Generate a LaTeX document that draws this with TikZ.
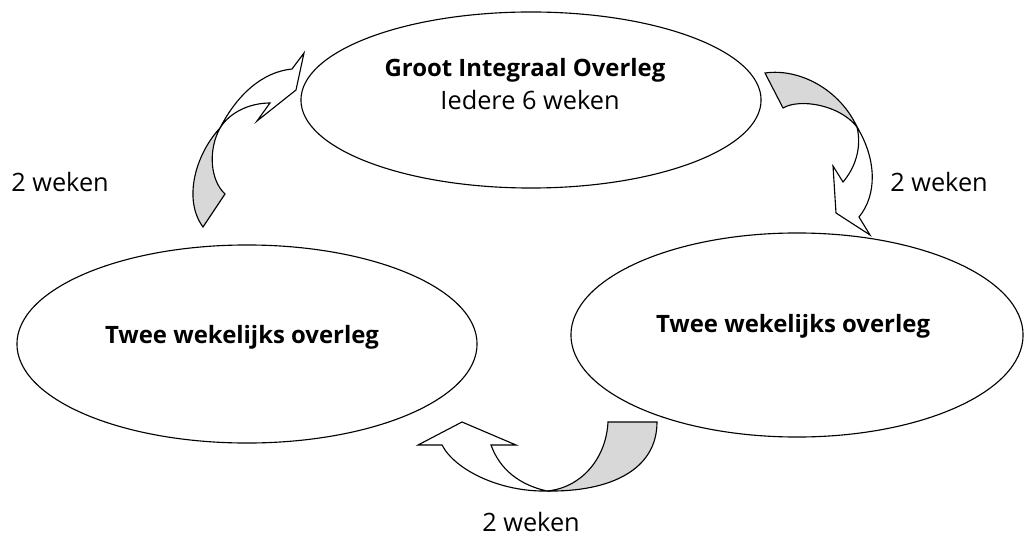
\documentclass[tikz,border=0pt]{standalone}
\usepackage{fontspec}
\setmainfont{Open Sans}
\usepackage{tikz}
\usetikzlibrary{shapes.geometric}
\definecolor{backgray}{RGB}{216,216,216}

\begin{document}
\begin{tikzpicture}[
  x=0.025cm, y=-0.025cm,
  font=\fontsize{18}{21}\selectfont,
  meeting/.style={draw, ellipse, line width=0.8pt, inner sep=0pt},
  title/.style={font=\fontsize{17}{20}\selectfont\bfseries, anchor=base},
  note/.style={anchor=base},
  band/.style={draw, line width=0.8pt, line join=miter},
  front/.style={band, fill=white},
  back/.style={band, fill=backgray}
]
\useasboundingbox (0,0) rectangle (1024,537);

% the three meetings
\node[meeting, minimum width=11.5cm, minimum height=4.4cm] (gio) at (531,100) {};
\node[meeting, minimum width=11.5cm, minimum height=4.95cm] (twl) at (247,344) {};
\node[meeting, minimum width=11.3cm, minimum height=5.1cm] (twr) at (797,335) {};

\node[title] (giotitle) at (525,77) {Groot Integraal Overleg};
\node[note] (giosub) at (530,110) {Iedere 6 weken};
\node[title] (twltitle) at (242,343) {Twee wekelijks overleg};
\node[title] (twrtitle) at (793,332) {Twee wekelijks overleg};

% top left arrow
\draw[back] (203,227) -- (225,194) .. controls (210,180) and (208,150) .. (220,128)
  .. controls (195,155) and (183,200) .. (203,227) -- cycle;
\draw[front] (220,128) .. controls (237,95) and (262,72) .. (292,69) -- (304,53) -- (296,90)
  -- (257,121) -- (270,103) .. controls (250,103) and (230,112) .. (220,128) -- cycle;

% top right arrow
\draw[back] (765,73) -- (783,108) .. controls (800,98) and (840,105) .. (857,127)
  .. controls (840,90) and (800,68) .. (765,73) -- cycle;
\draw[front] (857,127) .. controls (877,160) and (877,195) .. (859,217) -- (870,235) -- (836,213)
  -- (833,166) -- (843,182) .. controls (855,168) and (862,148) .. (857,127) -- cycle;

% bottom arrow
\draw[back] (608,422) -- (657,422) .. controls (657,470) and (610,492) .. (547,491)
  .. controls (580,488) and (606,460) .. (608,422) -- cycle;
\draw[front] (547,491) .. controls (500,492) and (455,470) .. (442,445) -- (418,445) -- (462,422)
  -- (516,445) -- (491,445) .. controls (500,470) and (520,485) .. (547,491) -- cycle;

% intervals
\node[note] (wkleft) at (60,192) {2 weken};
\node[note] (wkright) at (939,192) {2 weken};
\node[note] (wkbottom) at (531,531) {2 weken};
\end{tikzpicture}
\end{document}
